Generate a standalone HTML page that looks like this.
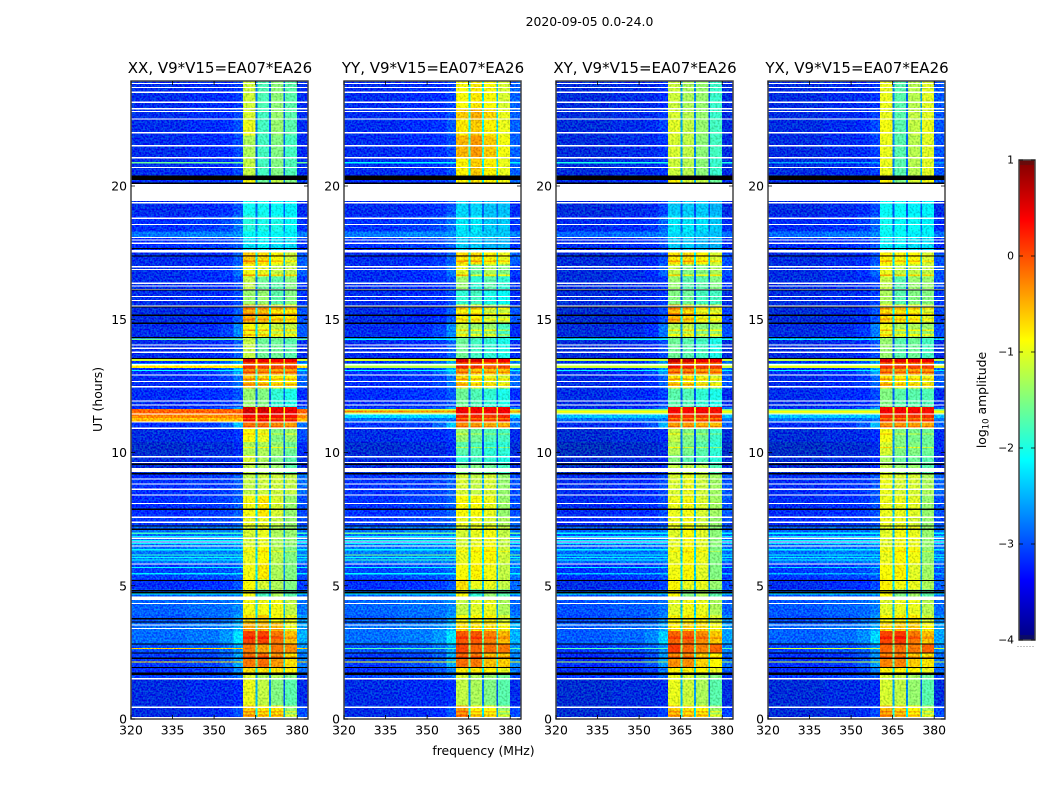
<!DOCTYPE html>
<html>
<head>
<meta charset="utf-8">
<style>
html,body{margin:0;padding:0;background:#fff;}
svg{display:block;}
text{font-family:"DejaVu Sans","Liberation Sans",sans-serif;fill:#000;}
</style>
</head>
<body>
<svg id="fig" xmlns="http://www.w3.org/2000/svg" width="1050" height="800" viewBox="0 0 1050 800">
  <defs>
    <!-- purely visual receiver-noise grain; every level still comes from the arrays below -->
    <filter id="grainOff" filterUnits="userSpaceOnUse" x="0" y="0" width="1050" height="800" color-interpolation-filters="sRGB">
      <feTurbulence type="fractalNoise" baseFrequency="0.55" numOctaves="1" seed="7" result="raw"/>
      <feColorMatrix in="raw" type="matrix" values="0 0 0 0 0  3 0 0 0 -1  0 0 0 0 0  0 0 0 0 1" result="gn"/>
      <feComposite in="gn" in2="SourceGraphic" operator="in" result="masked"/>
      <feComposite in="SourceGraphic" in2="masked" operator="arithmetic" k1="0" k2="1" k3="0.35" k4="0"/>
    </filter>
    <filter id="grainBand" filterUnits="userSpaceOnUse" x="0" y="0" width="1050" height="800" color-interpolation-filters="sRGB">
      <feTurbulence type="fractalNoise" baseFrequency="0.5" numOctaves="1" seed="3" result="raw"/>
      <feColorMatrix in="raw" type="matrix" values="3 0 0 0 -1  3 0 0 0 -1  3 0 0 0 -1  0 0 0 0 1" result="gn"/>
      <feComposite in="gn" in2="SourceGraphic" operator="in" result="masked"/>
      <feComposite in="SourceGraphic" in2="masked" operator="arithmetic" k1="0.3" k2="0.85" k3="0" k4="0"/>
    </filter>
  </defs>
</svg>
<script>
/* ---------- data (UT hours, MHz, log10 amplitude) ---------- */
const panelNames = ["XX", "YY", "XY", "YX"];
const panelTitles = ["XX, V9*V15=EA07*EA26", "YY, V9*V15=EA07*EA26", "XY, V9*V15=EA07*EA26", "YX, V9*V15=EA07*EA26"];
const freqTicks = [320, 335, 350, 365, 380];
const utTicks = [0, 5, 10, 15, 20];
const cbarTicks = [-4, -3, -2, -1, 0, 1];

/* spectral windows, MHz */
const bandEdges = [[360.5, 365], [365.6, 369.9], [370.5, 375], [375.6, 380]];
const gapEdges = [[365, 365.6], [369.9, 370.5], [375, 375.6]];

/* time sections: [UT high, UT low, off-band level, level next to the band] */
const sections = [
  [24, 22.9, -3.1, -2.95], [22.9, 22.5, -3.1, -2.9], [22.5, 21.9, -3.1, -2.85], [21.9, 21.06, -3.1, -2.9], [21.06, 20.4, -3.1, -2.9],
  [20.22, 20.14, -3.05, -2.9], [19.44, 18.9, -3.1, -2.85], [18.9, 18.3, -3.0, -2.7], [18.3, 18.05, -2.65, -2.55], [18.05, 17.6, -3.0, -2.8],
  [17.56, 17.05, -3.1, -2.8], [17.05, 16.6, -3.1, -2.7], [16.6, 16.1, -3.1, -2.9], [16.1, 15.55, -3.1, -2.9], [15.55, 14.85, -3.15, -2.8],
  [14.85, 14.3, -3.1, -2.6], [14.3, 13.55, -3.1, -2.8], [13.55, 13.15, -3.0, -2.5], [13.15, 12.9, -3.0, -2.4], [12.9, 12.4, -3.05, -2.7],
  [12.4, 11.7, -3.05, -2.85], [11.7, 11.45, -3.0, -2.5], [11.45, 11.15, -3.0, -2.5], [11.15, 10.9, -3.0, -2.3], [10.9, 10.4, -3.15, -3.0],
  [10.4, 9.9, -3.25, -3.1], [9.9, 9.55, -3.15, -3.0], [9.55, 9.2, -3.2, -3.0], [9.2, 8.4, -3.0, -2.8], [8.4, 7.6, -3.0, -2.8],
  [7.6, 7.24, -2.95, -2.8], [7.24, 6.5, -2.7, -2.6], [6.5, 5.85, -2.65, -2.6], [5.85, 5.25, -2.9, -2.75], [5.25, 4.85, -3.05, -2.85],
  [4.85, 4.6, -2.75, -2.65], [4.47, 3.9, -2.75, -2.6], [3.9, 3.6, -2.8, -2.5], [3.6, 3.3, -2.7, -2.4], [3.3, 2.8, -2.7, -2.15],
  [2.8, 2.5, -2.85, -2.5], [2.5, 1.95, -2.95, -2.45], [1.95, 1.74, -3.0, -2.6], [1.65, 1.51, -2.9, -2.7], [1.51, 0.5, -3.15, -3.05],
  [0.5, 0, -3.15, -2.85]
];

/* in-band levels per section, [window 1..4] */
const bandsXX = [
  [-1.15,-1.75,-1.45,-1.7],[-1.1,-1.8,-1.4,-1.7],[-1.0,-1.8,-1.4,-1.7],[-1.3,-1.8,-1.5,-1.8],[-1.2,-1.8,-1.5,-1.75],
  [-.9,-1.6,-1.2,-1.5],[-2.05,-2.05,-2.1,-2.2],[-1.95,-2,-2,-2.1],[-2.1,-2.1,-2.1,-2.2],[-2.3,-2.2,-2.3,-2.3],
  [-.6,-.7,-.9,-1.15],[-.95,-1,-1.2,-1.2],[-1.2,-1.6,-1.7,-1.5],[-1.4,-1.4,-1.7,-1.5],[-.5,-.6,-.75,-.8],
  [-.9,-1,-1.2,-1.2],[-1.2,-1.6,-1.6,-1.7],[.55,.45,.4,.45],[-.3,-.4,-.4,-.4],[-.6,-.7,-.85,-.85],
  [-1.4,-1.5,-1.9,-2],[.6,.6,.5,.45],[.35,.35,.3,.3],[-.2,-.2,-.3,-.4],[-.9,-1,-1.5,-1.4],
  [-1.3,-1.3,-1.4,-1.6],[-1.1,-1.3,-1.5,-1.7],[-1.2,-1.3,-1.4,-1.7],[-1.2,-1.15,-1.15,-1.2],[-.95,-.75,-1.1,-1.4],
  [-1,-1,-1.2,-1.4],[-1.1,-1,-1.3,-1.4],[-1,-.85,-1.25,-1.5],[-.95,-.75,-1.3,-1.5],[-.9,-1.1,-1.3,-1.5],
  [-.95,-1.8,-1.3,-1.7],[-.95,-.95,-.95,-1.2],[-.7,-.6,-.9,-1],[-.45,-.5,-.5,-1],[.05,.05,-.2,-.55],
  [-.2,-.4,-.2,-.3],[-.2,-.15,-.35,-.7],[-.7,-.7,-.75,-.8],[-1.1,-1.3,-1.3,-1.5],[-1.0,-1.2,-1.5,-1.7],
  [-.6,-.75,-.75,-1.4]
];
const bandsYY = [
  [-.9,-.75,-.9,-1.1],[-.6,-.45,-.65,-1.0],[-.75,-.6,-.8,-1.0],[-.5,-.35,-.6,-.95],[-.8,-.6,-.8,-1.0],
  [-.8,-.7,-.8,-.95],[-2.35,-2.35,-2.45,-2.45],[-2.25,-2.25,-2.4,-2.4],[-2.3,-2.3,-2.4,-2.4],[-2.4,-2.4,-2.5,-2.5],
  [-.7,-.7,-.85,-1.0],[-1,-1.6,-1.3,-1.5],[-1.4,-1.9,-1.7,-1.9],[-1.9,-1.8,-2,-2.1],[-.9,-.9,-1.2,-1.2],
  [-1.2,-1.4,-1.4,-1.8],[-1.6,-1.8,-1.9,-2.0],[.6,.55,.3,.4],[-.4,-.6,-.6,-.6],[-.7,-.9,-1,-1.1],
  [-1.6,-1.75,-1.9,-2],[.45,.45,.35,.4],[.2,.2,.1,.2],[-.3,-.4,-.5,-.5],[-1.4,-1.6,-1.75,-1.8],
  [-1.7,-1.75,-1.9,-1.9],[-1.9,-1.8,-1.9,-2],[-1.5,-1.5,-1.6,-1.8],[-1.1,-1.2,-1.1,-1.4],[-.9,-.9,-1,-1.4],
  [-1,-1.0,-1.1,-1.3],[-1.1,-1,-.95,-1.2],[-1,-.9,-.85,-1.15],[-.9,-.8,-.95,-1.2],[-.7,-1,-1,-1.2],
  [-.9,-1.9,-1.4,-1.7],[-1.2,-1.05,-1,-1.3],[-.9,-.85,-.8,-1.1],[-.7,-.7,-.7,-.9],[-.05,-.05,-.25,-.5],
  [.05,-.1,-.15,-.2],[-.15,-.2,-.55,-.6],[-.75,-.75,-.8,-1],[-1.1,-1.3,-1.4,-1.6],[-1.2,-1.3,-1.5,-1.7],
  [-.4,-.8,-.9,-1.4]
];
const bandsXY = [
  [-1.15,-1.3,-1.4,-1.85],[-1.1,-1.25,-1.4,-1.85],[-1.05,-1.2,-1.4,-1.8],[-1.1,-1.2,-1.45,-1.8],[-1.15,-1.25,-1.45,-1.85],
  [-.8,-1.1,-1.2,-1.6],[-2.4,-2.4,-2.4,-2.5],[-2.25,-2.25,-2.3,-2.4],[-2.3,-2.3,-2.4,-2.45],[-2.4,-2.4,-2.5,-2.5],
  [-.75,-.7,-.85,-1.1],[-1.2,-1.5,-1.5,-1.3],[-1.4,-1.7,-1.7,-1.5],[-1.5,-1.6,-1.8,-1.8],[-.55,-.7,-1.0,-1.1],
  [-1.3,-1.2,-1.5,-1.4],[-1.6,-1.7,-1.8,-2],[.7,.65,.5,.5],[-.3,-.3,-.4,-.4],[-.75,-.8,-1,-1.1],
  [-1.7,-1.75,-1.9,-2],[.35,.35,.35,.3],[.15,.15,.1,.15],[-.4,-.4,-.5,-.55],[-1.2,-1.5,-1.6,-1.85],
  [-1.3,-1.55,-1.7,-1.9],[-1.5,-1.7,-1.75,-1.95],[-1.2,-1.2,-1.25,-1.75],[-1.1,-1.0,-1.15,-1.35],[-1.0,-.95,-1.1,-1.35],
  [-1.0,-.95,-1.15,-1.4],[-1.05,-.9,-1.05,-1.45],[-1.0,-.85,-1,-1.5],[-.95,-.85,-1.05,-1.5],[-.85,-1,-1,-1.4],
  [-.9,-1.5,-1.3,-1.7],[-1.05,-.95,-1,-1.3],[-.85,-.75,-.8,-1.1],[-.75,-.65,-.7,-.95],[-.1,-.1,-.3,-.6],
  [.1,-.1,-.25,-.1],[-.3,-.3,-.65,-.85],[-.8,-.8,-.85,-1],[-1,-1.1,-1.3,-1.5],[-1.0,-1.15,-1.3,-1.7],
  [-.6,-.75,-.8,-1.35]
];
const bandsYX = [
  [-1.0,-1.7,-1.25,-1.05],[-1,-1.7,-1.2,-1.05],[-.95,-1.7,-1.2,-1],[-1,-1.7,-1.25,-1.05],[-1,-1.7,-1.25,-1.05],
  [-.8,-1.5,-1.1,-.95],[-2.1,-2.1,-2.2,-2.2],[-2.05,-2.1,-2.1,-2.2],[-2.1,-2.1,-2.2,-2.2],[-2.2,-2.2,-2.3,-2.3],
  [-.8,-.9,-.9,-1.1],[-1,-1.2,-1.2,-1.2],[-1.2,-1.7,-1.4,-1.4],[-1.3,-1.7,-1.5,-1.5],[-.7,-.8,-.9,-1.1],
  [-1,-1.3,-1.3,-1.4],[-1.4,-1.7,-1.6,-1.8],[.55,.5,.45,.45],[-.3,-.4,-.4,-.4],[-.7,-.85,-.95,-1],
  [-1.5,-1.7,-1.7,-1.75],[.4,.4,.35,.3],[.15,.15,.1,.15],[-.35,-.35,-.4,-.45],[-.95,-1.5,-1.55,-1.6],
  [-1.1,-1.5,-1.5,-1.6],[-1.35,-1.6,-1.6,-1.7],[-1.2,-1.4,-1.4,-1.7],[-1,-1.1,-1.1,-1.3],[-1,-1,-1.05,-1.4],
  [-1,-1,-1.1,-1.4],[-1.05,-.95,-1,-1.4],[-1,-.85,-.95,-1.4],[-.9,-.8,-1.05,-1.35],[-.8,-.95,-1,-1.3],
  [-.9,-1.5,-1.35,-1.7],[-1.05,-1.0,-1,-1.25],[-.85,-.75,-.75,-1.1],[-.65,-.6,-.6,-.9],[.05,.1,-.2,-.55],
  [-.1,-.15,-.2,-.1],[-.25,-.25,-.6,-.75],[-.8,-.8,-.85,-1],[-1.1,-1.2,-1.35,-1.6],[-1.1,-1.2,-1.4,-1.7],
  [-.5,-.65,-.85,-1.3]
];
const bandsByPanel = [bandsXX, bandsYY, bandsXY, bandsYX];

/* broad-band interference rows: [UT high, UT low, XX, YY, XY, YX] */
const rfiRows = [
  [20.9, 20.85, -1.4, -2.0, -1.8, -2.6],
  [14.28, 14.23, -1.4, -2.0, -1.8, -2.2],
  [13.5, 13.43, -.9, -.85, -.95, -1.0],
  [13.34, 13.3, -1.9, -1.4, -1.3, -1.7],
  [13.26, 13.17, -.35, -1.0, -.9, -.8],
  [13.1, 13.05, -1.9, -2.0, -2.1, -2.1],
  [11.64, 11.58, .3, -.9, -1.3, -1.4],
  [11.58, 11.5, .35, .1, -.6, -.6],
  [11.5, 11.46, .3, -1.0, -1.0, -1.0],
  [11.42, 11.3, .15, -2.3, -2.4, -2.4],
  [11.3, 11.17, -.1, -2.8, -2.8, -2.8],
  [6.99, 6.95, -1.6, -1.4, -1.9, -2.0],
  [6.86, 6.82, -2.0, -1.9, -2.0, -2.1],
  [6.72, 6.68, -1.9, -1.8, -2.0, -2.0],
  [6.6, 6.56, -2.1, -2.0, -2.2, -2.2],
  [6.37, 6.32, -1.9, -1.9, -2.0, -2.1],
  [6.18, 6.13, -1.7, -1.3, -1.9, -1.9],
  [6.08, 6.04, -2.1, -1.9, -2.2, -2.2],
  [5.99, 5.95, -2.0, -1.6, -2.0, -2.1],
  [5.7, 5.66, -2.0, -1.9, -2.1, -2.3],
  [5.47, 5.43, -2.2, -2.0, -2.4, -2.5],
  [4.72, 4.68, -2.0, -2.0, -2.2, -2.2],
  [2.66, 2.62, -.2, -1.5, -1.5, -.9],
  [2.16, 2.12, -.25, -.7, -1.0, -.9]
];

/* strong rows inside the windows: [UT high, UT low, added log amplitude] */
const bandRows = [
  [17.42, 17.36, .35], [17.2, 17.14, .35], [16.68, 16.62, .55], [15.42, 15.36, .4], [15.24, 15.18, .3],
  [15.02, 14.96, .3], [14.62, 14.56, .5], [14.44, 14.38, .4], [13.38, 13.3, -.7], [13.25, 13.17, -.4],
  [13.04, 12.98, .35], [12.78, 12.72, .4], [12.58, 12.52, .4], [11.3, 11.24, -.4], [11.0, 10.96, .25],
  [10.72, 10.68, .4], [10.42, 10.38, .5], [10.2, 10.16, .45], [8.12, 8.06, .2], [6.3, 6.26, .2],
  [3.42, 3.36, .3], [3.1, 3.0, .2], [2.36, 2.3, .2], [0.3, 0.24, .3], [0.16, 0.1, .35]
];

/* blanked integrations (white): UT centres of thin rows, then [high, low] of wide ones */
const blankRows = [
  23.85, 23.70, 23.52, 23.14, 22.90, 22.80, 22.51, 22.00, 21.51, 21.06, 20.70,
  19.37, 18.79, 18.56, 18.07, 17.97, 17.85, 16.97, 16.87, 16.35, 16.25, 16.12, 15.85, 15.70, 15.50,
  14.03, 13.91, 13.76, 13.29, 12.91, 12.67, 12.47, 11.93, 11.78, 11.44, 11.14, 10.91, 9.84, 9.63,
  9.01, 8.82, 8.62, 8.41, 8.09, 7.57, 7.38, 6.78, 6.64, 6.49, 5.82, 4.34, 3.53, 3.39, 1.51, 0.44, 0.05
];
const blankBands = [[20.04, 19.44], [17.6, 17.5], [12.5, 12.44], [9.42, 9.26], [4.6, 4.47]];

/* zero-amplitude integrations (black) */
const blackRows = [
  17.66, 17.37, 16.10, 15.46, 15.15, 14.85, 14.32, 13.53, 9.56, 9.2, 7.87, 7.24, 7.12, 5.2, 4.81, 4.74,
  3.76, 3.64, 2.81, 2.48, 2.28, 1.93
];
const blackBands = [[20.4, 20.22], [20.14, 20.07], [1.74, 1.65]];

/* ---------- geometry and scales ---------- */
const SVGNS = "http://www.w3.org/2000/svg";
const fig = document.getElementById("fig");
const panelLeft = [131, 344, 556, 768];
const panelWidth = 177;
const plotTop = 81, plotBottom = 719;
const xScale = (left, mhz) => left + (mhz - 320) * 2.77;
const yScale = ut => 719 - ut * 26.65;
const xMax = 320 + panelWidth / 2.77;
const cbarY = v => 640 - (v + 4) * 96;

function jet(v) {
  const t = Math.max(0, Math.min(1, (v + 4) / 5));
  const ch = c => Math.round(255 * Math.max(0, Math.min(1, 1.5 - Math.abs(4 * t - c))));
  return "rgb(" + ch(3) + "," + ch(2) + "," + ch(1) + ")";
}
function mk(tag, attrs, parent) {
  const el = document.createElementNS(SVGNS, tag);
  for (const k in attrs) el.setAttribute(k, attrs[k]);
  (parent || fig).appendChild(el);
  return el;
}
function cell(group, left, f0, f1, t0, t1, color, name) {
  const x0 = xScale(left, f0), x1 = xScale(left, Math.min(f1, xMax));
  const y0 = Math.max(yScale(t0), plotTop), y1 = yScale(t1);
  const r = mk("rect", { x: x0, y: y0, width: x1 - x0, height: Math.max(y1 - y0, 1), fill: color, "shape-rendering": "crispEdges" }, group);
  
  
  return r;
}
function label(str, x, y, size, anchor, name, parent) {
  const t = mk("text", { x: x, y: y, "font-size": size, "text-anchor": anchor }, parent);
  t.textContent = str;
  
  
  return t;
}

/* ---------- panels ---------- */
const GRAIN_LIFT = 0.22;   /* the off-band grain adds this much on average */
panelNames.forEach((pname, p) => {
  const left = panelLeft[p];
  const g = mk("g", {});
  
  

  const heat = mk("g", { filter: "url(#grainOff)" }, g);
  
  
  const inBand = mk("g", { filter: "url(#grainBand)" }, g);
  
  
  const flags = mk("g", {}, g);
  
  

  const bands = bandsByPanel[p];
  const shift = [-.12, -.1, -.2, -.17][p];

  sections.forEach((s, i) => {
    const hi = s[0], lo = s[1], bg = s[2] + shift, edge = s[3] + shift;
    const lev = bands[i];
    cell(heat, left, 320, 340, hi, lo, jet(bg - GRAIN_LIFT - .03), 'heatmap-cell');
    cell(heat, left, 340, 352, hi, lo, jet(bg - GRAIN_LIFT + .03), 'heatmap-cell');
    cell(heat, left, 352, 357, hi, lo, jet((bg * 2 + edge) / 3 - GRAIN_LIFT), 'heatmap-cell');
    cell(heat, left, 357, 360.5, hi, lo, jet(edge - GRAIN_LIFT), 'heatmap-cell');
    cell(heat, left, 380, 384, hi, lo, jet(Math.max(bg, Math.min(bg + .3, lev[3] - 1.6)) - GRAIN_LIFT), 'heatmap-cell');
    bandEdges.forEach((e, b) => cell(inBand, left, e[0], e[1], hi, lo, jet(lev[b]), 'heatmap-cell'));
    gapEdges.forEach((e, b) => cell(inBand, left, e[0], e[1], hi, lo, jet(Math.max(bg + .3, (lev[b] + lev[b + 1]) / 2 - 1.4)), 'heatmap-cell'));
  });

  rfiRows.forEach(r => {
    const v = r[2 + p] - GRAIN_LIFT;
    cell(heat, left, 320, 360.5, r[0], r[1], jet(v), 'rfi-row');
    cell(heat, left, 380, 384, r[0], r[1], jet(v), 'rfi-row');
  });

  bandRows.forEach(r => {
    sections.forEach((s, i) => {
      if (r[0] <= s[0] && r[1] >= s[1]) {
        bandEdges.forEach((e, b) => cell(inBand, left, e[0], e[1], r[0], r[1], jet(bands[i][b] + r[2]), 'strong-band-row'));
      }
    });
  });

  const halfRow = 0.022;
  blankRows.forEach(u => cell(flags, left, 320, 384, u + halfRow, u - halfRow, "#ffffff", 'blanked-row'));
  blankBands.forEach(b => cell(flags, left, 320, 384, b[0], b[1], "#ffffff", 'blanked-band'));
  blackRows.forEach(u => cell(flags, left, 320, 384, u + halfRow, u - halfRow, "#000000", 'zero-row'));
  blackBands.forEach(b => cell(flags, left, 320, 384, b[0], b[1], "#000000", 'zero-band'));

  const frame = mk("rect", { x: left, y: plotTop, width: panelWidth, height: plotBottom - plotTop, fill: "none", stroke: "#444", "stroke-width": 1.5 }, g);
  
  

  freqTicks.forEach(f => {
    const x = xScale(left, f);
    const t1 = mk("path", { d: "M" + x + " " + plotBottom + "v-4M" + x + " " + plotTop + "v4", stroke: "#000", "stroke-width": .8, fill: "none" }, g);
    
    
    label(String(f), x, 734.5, 12.4, "middle", 'x-tick-label', g);
  });
  utTicks.forEach(u => {
    const y = yScale(u);
    const t2 = mk("path", { d: "M" + left + " " + y + "h4M" + (left + panelWidth) + " " + y + "h-4", stroke: "#000", "stroke-width": .8, fill: "none" }, g);
    
    
    label(String(u), left - 4, y + 4.5, 12.4, "end", 'y-tick-label', g);
  });
  label(panelTitles[p], left + panelWidth / 2 + .5, 73, 15, "middle", 'panel-title', g);
});

label("2020-09-05 0.0-24.0", 589.5, 26, 12.4, "middle", 'figure-title');
label("frequency (MHz)", 483.5, 755, 12.4, "middle", 'x-axis-title');
const yTitle = label("UT (hours)", 0, 0, 12.4, "middle", 'y-axis-title');
yTitle.setAttribute("transform", "translate(102 399.5) rotate(-90)");

/* ---------- colour bar ---------- */
const cb = mk("g", {});


const defs = mk("defs", {}, cb);
const grad = mk("linearGradient", { id: "jetGrad", x1: 0, y1: 1, x2: 0, y2: 0 }, defs);
for (let i = 0; i <= 40; i++) {
  mk("stop", { offset: i / 40, "stop-color": jet(-4 + i / 8) }, grad);
}
const cbRect = mk("rect", { x: 1019, y: cbarY(1), width: 16, height: cbarY(-4) - cbarY(1), fill: "url(#jetGrad)", stroke: "#444", "stroke-width": 1.5 }, cb);


cbarTicks.forEach(v => {
  const y = cbarY(v);
  const t3 = mk("path", { d: "M1019 " + y + "h4M1035 " + y + "h-4", stroke: "#000", "stroke-width": .8, fill: "none" }, cb);
  
  
  label(String(v).replace("-", "\u2212"), 1014, y + 3.5, 10.8, "end", 'colorbar-tick-label', cb);
});
[161, 639].forEach(y => {
  const dir = y < 300 ? "v4" : "v-4";
  for (let i = 0; i < 7; i++) {
    const x = 1021 + i * 2;
    mk("path", { d: "M" + x + " " + y + dir, stroke: "#222", "stroke-width": .6, fill: "none" }, cb);
  }
});
const dots = mk("path", { d: "M1017.5 646.5h18", stroke: "#888", "stroke-width": 1, "stroke-dasharray": "1 2", fill: "none" }, cb);


const cbTitle = mk("text", { "font-size": 12.4, "text-anchor": "middle", transform: "translate(986 400) rotate(-90)" }, cb);


cbTitle.appendChild(document.createTextNode("log"));
const sub = mk("tspan", { "font-size": 8.5, dy: 2.5 }, cbTitle);
sub.textContent = "10";
const rest = mk("tspan", { dy: -2.5 }, cbTitle);
rest.textContent = " amplitude";
</script>
</body>
</html>
